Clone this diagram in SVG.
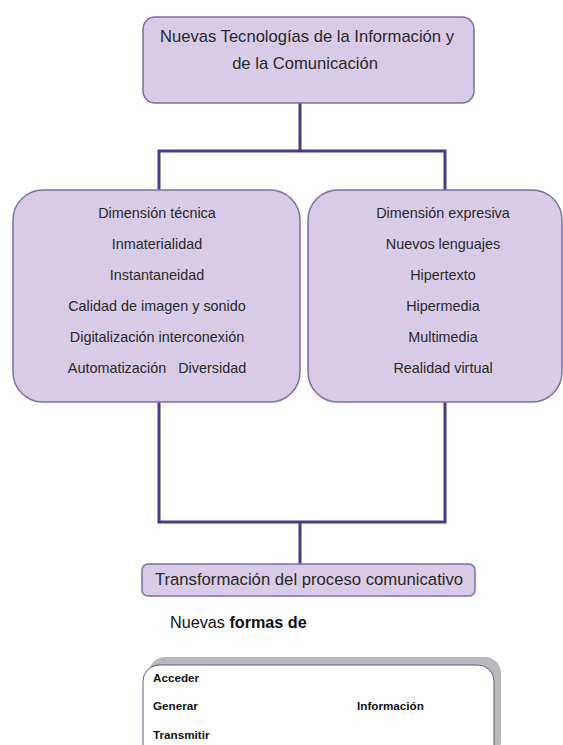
<svg xmlns="http://www.w3.org/2000/svg" width="563" height="745" viewBox="0 0 563 745">
  <style>
    .box { fill: #d7cbe5; stroke: #7f6f9f; stroke-width: 1.5; }
    .wire { fill: none; stroke: #4b3b82; stroke-width: 3; stroke-linejoin: miter; }
    .t { font-family: "Liberation Sans", Arial, sans-serif; fill: #2a2a2a; text-anchor: middle; }
    .b { font-family: "Liberation Sans", Arial, sans-serif; font-weight: bold; fill: #111; font-size: 11.7px; }
  </style>

  <!-- connectors -->
  <g id="connectors">
    <path class="wire" d="M300 103 V151 M159 190 V151 H445 V190"/>
    <path class="wire" d="M159 402 V522 H445 V402 M300 522 V564"/>
  </g>

  <g id="ntic">
    <rect class="box" x="143" y="17" width="331" height="86" rx="12"/>
    <text class="t" x="307" y="42" font-size="16.6">Nuevas Tecnologías de la Información y</text>
    <text class="t" x="305" y="69" font-size="16.6">de la Comunicación</text>
  </g>

  <g id="tecnica">
    <rect class="box" x="13" y="190" width="287" height="212" rx="30"/>
    <g class="t" font-size="14.4">
      <text x="157" y="218">Dimensión técnica</text>
      <text x="157" y="249">Inmaterialidad</text>
      <text x="157" y="280">Instantaneidad</text>
      <text x="157" y="311">Calidad de imagen y sonido</text>
      <text x="157" y="342">Digitalización interconexión</text>
      <text x="157" y="373" xml:space="preserve">Automatización   Diversidad</text>
    </g>
  </g>

  <g id="expresiva">
    <rect class="box" x="308" y="190" width="254" height="212" rx="30"/>
    <g class="t" font-size="14.4">
      <text x="443" y="218">Dimensión expresiva</text>
      <text x="443" y="249">Nuevos lenguajes</text>
      <text x="443" y="280">Hipertexto</text>
      <text x="443" y="311">Hipermedia</text>
      <text x="443" y="342">Multimedia</text>
      <text x="443" y="373">Realidad virtual</text>
    </g>
  </g>

  <g id="transformacion">
    <rect class="box" x="142" y="564" width="333" height="32" rx="6"/>
    <text class="t" x="309" y="585" font-size="16.7">Transformación del proceso comunicativo</text>
  </g>

  <g id="nuevas-formas">
    <text x="170" y="628" font-family="Liberation Sans, Arial, sans-serif" font-size="16.2" fill="#111">Nuevas <tspan font-weight="bold">formas de</tspan></text>
  </g>

  <g id="acciones">
    <rect x="149" y="657" width="352" height="100" rx="16" fill="#b9b9bb"/>
    <rect x="143" y="665" width="351" height="100" rx="16" fill="#ffffff" stroke="#5a5a78" stroke-width="1"/>
    <text class="b" x="153" y="682">Acceder</text>
    <text class="b" x="153" y="710">Generar</text>
    <text class="b" x="357" y="710">Información</text>
    <text class="b" x="153" y="739">Transmitir</text>
  </g>
</svg>
